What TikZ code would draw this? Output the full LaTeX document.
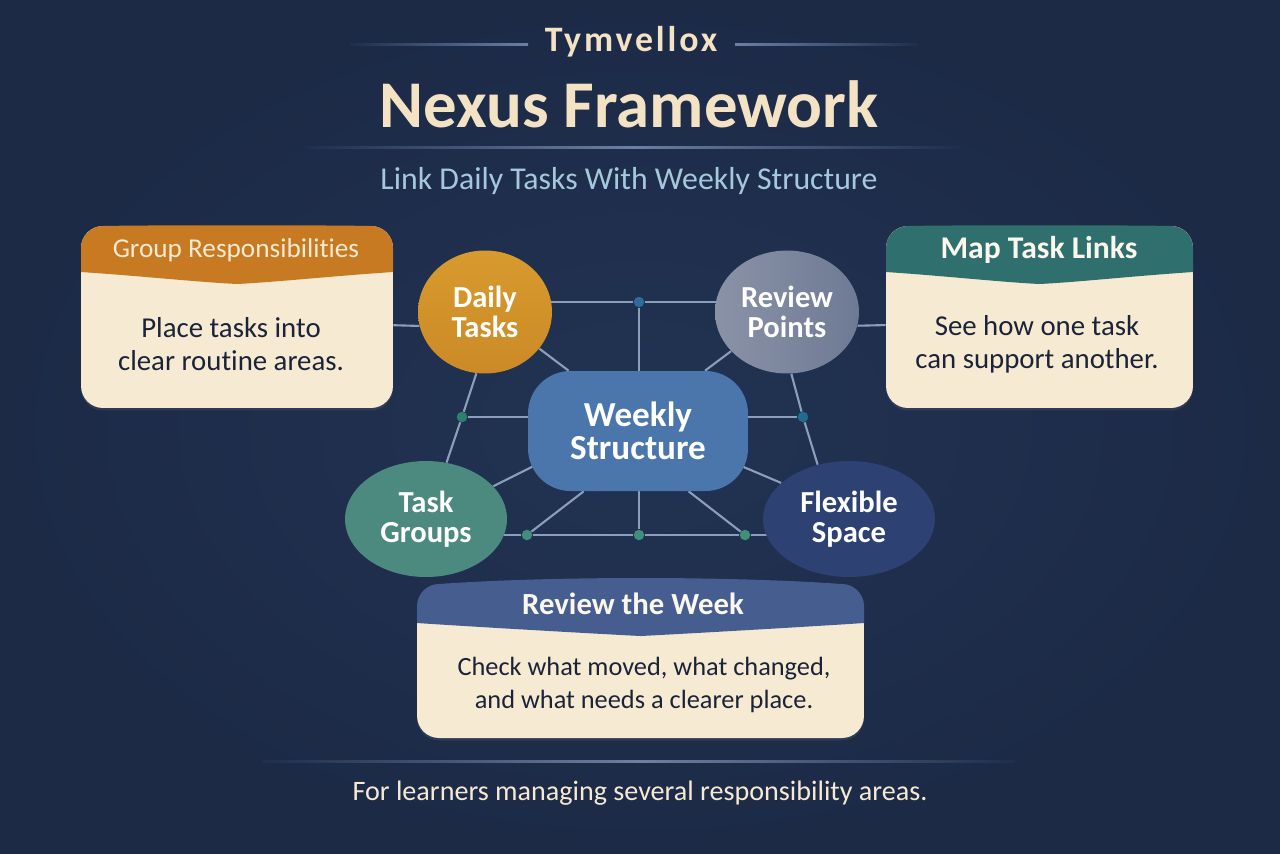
\documentclass[tikz,border=0pt]{standalone}
\usepackage{fontspec}
\setmainfont[Ligatures=NoCommon]{Carlito}
\newfontfamily\spacedfont[LetterSpace=8]{Carlito}
\usepackage{xcolor}
\usetikzlibrary{positioning,calc,backgrounds,shapes.geometric,shadows}
\definecolor{navybg}{HTML}{1F2E4C}
\definecolor{navyedge}{HTML}{1C2A46}
\definecolor{navymid}{HTML}{223353}
\definecolor{cream}{HTML}{F6EAD3}
\definecolor{titlecream}{HTML}{F3E2C4}
\definecolor{skyblue}{HTML}{A5C8DC}
\definecolor{inkdark}{HTML}{1B2338}
\definecolor{linkblue}{HTML}{8B9FBD}
\definecolor{ruleblue}{HTML}{6B80A4}
\definecolor{headorange}{HTML}{C77A22}
\definecolor{headteal}{HTML}{2F6F6E}
\definecolor{headblue}{HTML}{465E8F}
\definecolor{dailytop}{HTML}{D89A2E}
\definecolor{dailylow}{HTML}{CB8A26}
\definecolor{reviewlt}{HTML}{8A92A6}
\definecolor{reviewdk}{HTML}{6E7A94}
\definecolor{groupfill}{HTML}{4C897F}
\definecolor{flexfill}{HTML}{2D4173}
\definecolor{weeklyfill}{HTML}{4A76AB}
\definecolor{dotblue}{HTML}{2E6C9B}
\definecolor{dotdeep}{HTML}{1F6C8E}
\definecolor{dotgreen}{HTML}{2F7F6F}
\definecolor{dotsage}{HTML}{3F8F7A}
\tikzset{link/.style={draw=linkblue, line width=1.2pt}}
\tikzset{linkout/.style={link, shorten >=-3pt}}
\tikzset{hub/.style={ellipse, inner sep=0pt, text=white, align=center, font=\fontsize{17.4}{16.8}\selectfont\bfseries}}
\tikzset{jdot/.style={circle, inner sep=0pt, minimum size=0.21cm, fill=#1}}
\tikzset{card/.style args={#1|#2}{rectangle, fill=cream, rounded corners=0.44cm, minimum width=#1cm, minimum height=#2cm,
	drop shadow={opacity=0.18, shadow xshift=0cm, shadow yshift=-0.05cm}}}
\tikzset{headtxt/.style={text=white!60!cream, font=\fontsize{18}{18}\selectfont\bfseries}}
\tikzset{bodytxt/.style={text=inkdark, align=center, font=\fontsize{16.4}{18.8}\selectfont}}
\newcommand\cardhead[7]{%
	\pgfmathsetmacro\xmid{(#1+#2)/2}
	\fill[#6] (#1,#4) -- (#1,#3+22) .. controls (#1,#3+10) and (#1+10,#3) .. (#1+22,#3)
		.. controls (\xmid-90,#3-#7) and (\xmid+90,#3-#7) .. (#2-22,#3)
		.. controls (#2-10,#3) and (#2,#3+10) .. (#2,#3+22) -- (#2,#4)
		.. controls (#2-60,#4+4) and (\xmid+40,#5-2) .. (\xmid,#5)
		.. controls (\xmid-40,#5-2) and (#1+60,#4+4) .. (#1,#4) -- cycle;}
\begin{document}
\begin{tikzpicture}[x=0.02cm, y=-0.02cm]
	\begin{scope}[on background layer]
		\shade[inner color=navymid, outer color=navyedge] (0,0) rectangle (1280,853);
	\end{scope}
	\path[use as bounding box] (0,0) rectangle (1280,853);

	% title block
	\node[text=titlecream, font=\fontsize{20.4}{20.4}\spacedfont\bfseries] (brand) at (631,42) {Tymvellox};
	\node[text=titlecream, font=\fontsize{38}{38}\selectfont\bfseries] (title) at (629,104) {Nexus Framework};
	\node[text=skyblue, font=\fontsize{18.1}{18.1}\selectfont] (subtitle) at (629,181) {Link Daily Tasks With Weekly Structure};
	\shade[left color=navybg, right color=ruleblue] (350,43.5) rectangle (528,45);
	\shade[left color=ruleblue, right color=navybg] (735,43.5) rectangle (918,45);
	\shade[left color=navybg, right color=ruleblue] (305,146) rectangle (632,148);
	\shade[left color=ruleblue, right color=navybg] (632,146) rectangle (960,148);

	% hubs
	\node[hub, minimum width=2.68cm, minimum height=2.46cm, top color=dailytop, bottom color=dailylow] (daily) at (485,312) {Daily\\Tasks};
	\node[hub, minimum width=2.88cm, minimum height=2.46cm, left color=reviewlt, right color=reviewdk] (review) at (787,312) {Review\\Points};
	\node[hub, minimum width=3.24cm, minimum height=2.32cm, fill=groupfill] (groups) at (426,519) {Task\\Groups};
	\node[hub, minimum width=3.44cm, minimum height=2.32cm, fill=flexfill] (flexible) at (849,519) {Flexible\\Space};
	\node[rectangle, rounded corners=0.85cm, minimum width=4.4cm, minimum height=2.4cm, fill=weeklyfill,
		text=white, align=center, font=\fontsize{20}{19}\selectfont\bfseries] (weekly) at (638,431) {Weekly\\Structure};

	% junctions
	\node[jdot=dotblue] (dotTop) at (639,302) {};
	\node[jdot=dotgreen] (dotLeft) at (462,417) {};
	\node[jdot=dotdeep] (dotRight) at (803,417) {};
	\node[jdot=dotsage] (dotA) at (527,535) {};
	\node[jdot=dotsage] (dotB) at (639,535) {};
	\node[jdot=dotsage] (dotC) at (745,535) {};

	% cards
	\node[card={6.24|3.64}] (groupCard) at (237,317) {};
	\cardhead{81}{393}{226}{272}{284}{headorange}{1}
	\node[text=cream, font=\fontsize{15.5}{16}\selectfont] (groupHead) at (236,250) {Group Responsibilities};
	\node[bodytxt] (groupBody) at (231,344) {Place tasks into\\clear routine areas.};

	\node[card={6.14|3.64}] (mapCard) at (1039.5,317) {};
	\cardhead{886}{1193}{226}{272}{284}{headteal}{1}
	\node[headtxt] (mapHead) at (1039,250) {Map Task Links};
	\node[bodytxt] (mapBody) at (1037,344) {See how one task\\can support another.};

	\node[card={8.94|2.8}] (weekCard) at (640.5,668) {};
	\cardhead{417}{864}{584}{623}{636}{headblue}{8}
	\node[headtxt, font=\fontsize{17.5}{18}\selectfont\bfseries] (weekHead) at (633,604) {Review the Week};
	\node[bodytxt, font=\fontsize{15}{19}\selectfont] (weekBody) at (644,685) {Check what moved, what changed,\\and what needs a clearer place.};

	% footer
	\shade[left color=navybg, right color=ruleblue] (262,760) rectangle (640,762);
	\shade[left color=ruleblue, right color=navybg] (640,760) rectangle (1015,762);
	\node[text=cream, font=\fontsize{16}{16}\selectfont] (footer) at (640,793) {For learners managing several responsibility areas.};

	% links stay behind the shapes
	\begin{scope}[on background layer]
		\draw[link] (groupCard.-3) -- (daily.192);
		\draw[link] (mapCard.183) -- (review.-11);
		\draw[link] (daily.center |- dotTop) -- (dotTop);
		\draw[link] (dotTop) -- (review.center |- dotTop);
		\draw[link] (dotTop) -- (dotTop |- weekly.north);
		\draw[link] (daily.-34) -- (weekly.139);
		\draw[link] (review.215) -- (weekly.42);
		\draw[link] (daily.-98) -- (dotLeft);
		\draw[link] (dotLeft) -- (groups.70);
		\draw[link] (review.-86) -- (dotRight);
		\draw[link] (dotRight) -- (flexible.120);
		\draw[link] (dotLeft) -- (dotLeft -| weekly.west);
		\draw[link] (dotRight) -- (dotRight -| weekly.east);
		\draw[linkout] (groups.26) -- (weekly.199);
		\draw[linkout] (flexible.152) -- (weekly.-19);
		\draw[link] (weekly.228) -- (dotA);
		\draw[link] (dotB |- weekly.south) -- (dotB);
		\draw[link] (weekly.-50) -- (dotC);
		\draw[link] (groups.center |- dotA) -- (dotA);
		\draw[link] (dotA) -- (dotB);
		\draw[link] (dotB) -- (dotC);
		\draw[link] (dotC) -- (flexible.center |- dotC);
	\end{scope}
\end{tikzpicture}
\end{document}
